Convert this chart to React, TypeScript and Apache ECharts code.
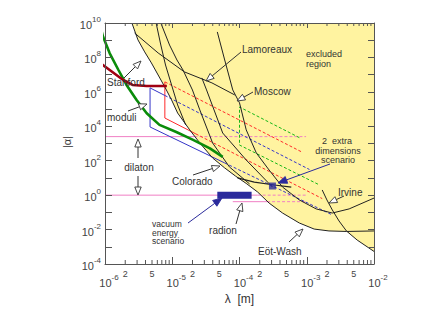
import React, { useEffect, useRef } from 'react';
import * as echarts from 'echarts';

// All curve points are [log10(λ / m), log10(|α|)]
const xExponents = [-6, -5, -4, -3, -2];
const minorMultipliers = [2, 3, 4, 5, 6, 7, 8, 9];
const labelledMinor = [2, 5];

const excludedBoundary: number[][] = [
  [-5.60, 10.00], [-5.51, 9.02], [-5.41, 8.32], [-5.31, 7.68], [-5.21, 6.98],
  [-5.11, 6.28], [-5.01, 5.53], [-4.92, 4.77], [-4.74, 3.79], [-4.59, 3.03],
  [-4.40, 2.16], [-4.22, 1.58], [-4.06, 1.11], [-3.90, 0.68], [-3.73, 0.18],
  [-3.56, -0.46], [-3.36, -1.04], [-3.11, -1.62], [-2.89, -1.97], [-2.67, -2.08],
  [-2.41, -2.11], [-2.00, -2.08],
];
const irvineCurve: number[][] = [
  [-2.77, 0.30], [-2.70, -0.28], [-2.62, -0.86], [-2.52, -1.50], [-2.41, -2.08],
  [-2.25, -2.61], [-2.00, -3.27],
];
const lamoreauxCurve: number[][] = [
  [-5.56, 9.42], [-5.21, 8.26], [-4.82, 7.16], [-4.41, 6.52], [-4.07, 5.82],
];
const steepCurveA: number[][] = [
  [-5.24, 10.00], [-5.17, 8.72], [-5.10, 7.56], [-5.01, 6.40], [-4.92, 5.24], [-4.80, 4.08],
];
const steepCurveB: number[][] = [
  [-5.17, 10.00], [-5.04, 8.72], [-4.93, 7.85], [-4.84, 7.27], [-4.70, 6.11],
  [-4.59, 4.95], [-4.40, 3.03], [-4.15, 1.64], [-3.85, 0.65],
];
const steepCurveC: number[][] = [
  [-4.56, 6.81], [-4.49, 6.11], [-4.25, 3.61], [-3.90, 2.04], [-3.51, 0.47],
];
const moscowCurve: number[][] = [
  [-4.33, 9.48], [-4.22, 7.85], [-4.10, 6.11], [-4.00, 5.36], [-3.90, 3.79],
  [-3.75, 2.45], [-3.56, 1.46], [-3.36, 0.47], [-3.11, -0.28], [-2.86, -0.80],
  [-2.62, -1.04], [-2.37, -0.80], [-2.00, -0.17],
];
const coloradoCurve: number[][] = [
  [-4.03, 1.00], [-3.78, 0.76], [-3.48, 0.59], [-3.23, 0.47],
];
const greenCurve: number[][] = [
  [-6.10, 10.28], [-6.03, 9.21], [-5.93, 8.24], [-5.80, 7.27], [-5.68, 6.40],
  [-5.53, 5.53], [-5.38, 4.76], [-5.19, 4.08], [-4.94, 3.67], [-4.69, 3.21],
  [-4.44, 2.72], [-4.25, 2.22],
];
const stanfordCurve: number[][] = [
  [-6.10, 7.76], [-5.93, 7.27], [-5.73, 6.69], [-5.59, 6.40], [-5.38, 6.34], [-5.08, 6.34],
];
const redSolid: number[][] = [[-5.11, 6.58], [-5.11, 4.48], [-4.65, 3.56]];
const redDashedUpper: number[][] = [[-5.11, 6.58], [-3.07, 2.50]];
const redDashedLower: number[][] = [[-4.65, 3.56], [-2.77, -0.20]];
const blueSolid: number[][] = [[-5.11, 5.79], [-5.33, 6.23], [-5.33, 3.96], [-4.22, 1.87]];
const blueDashedUpper: number[][] = [[-5.11, 5.79], [-2.96, 1.49]];
const blueDashedLower: number[][] = [[-4.22, 1.87], [-2.62, -1.15]];
const greenDashed: number[][] = [[-3.11, 3.34], [-4.00, 5.12], [-4.00, 2.91], [-2.815, 0.60]];
const pinkSolidUpper: number[][] = [[-6.00, 3.40], [-4.67, 3.40]];
const pinkDashedUpper: number[][] = [[-4.67, 3.40], [-3.01, 3.40]];
const pinkSolidUnity: number[][] = [[-6.00, 0], [-3.73, 0]];
const pinkDashedUnity: number[][] = [[-3.73, 0], [-3.01, 0]];
const pinkSolidLower: number[][] = [[-4.10, -0.38], [-3.59, -0.38]];
const pinkDashedLower: number[][] = [[-3.59, -0.38], [-3.01, -0.38]];
const radionRange: number[][] = [[-4.33, 0], [-3.82, 0]];
const twoExtraDimPoint: number[][] = [[-3.51, 0.53]];

const FONT = 'Liberation Sans, Arial, Helvetica, sans-serif';
const YELLOW = '#fff3a0';
const INK = '#222';
const AXIS = '#555';
const LABEL = '#444';
const NAVY = '#2b2b9c';
const PINK = '#f07fc4';

function line(data: number[][], color: string, width: number, type: any = 'solid', z = 3, clip = true) {
  return {
    type: 'line', data, symbol: 'none', showSymbol: false, silent: true, clip, z,
    lineStyle: { color, width, type },
  };
}

function arrow(x1: number, y1: number, x2: number, y2: number, color: string, filled: boolean) {
  const dx = x2 - x1, dy = y2 - y1, L = Math.hypot(dx, dy);
  const ux = dx / L, uy = dy / L;
  const h = filled ? 9 : 8, w = filled ? 3.6 : 3.2;
  const bx = x2 - ux * h, by = y2 - uy * h;
  const nx = -uy, ny = ux;
  return [
    { type: 'line', z: 100, shape: { x1, y1, x2: bx, y2: by }, style: { stroke: color, lineWidth: 1 } },
    {
      type: 'polygon', z: 100,
      shape: { points: [[x2, y2], [bx + nx * w, by + ny * w], [bx - nx * w, by - ny * w]] },
      style: { fill: filled ? color : '#fff', stroke: color, lineWidth: 0.9 },
    },
  ];
}

function label(text: string, x: number, y: number, align = 'left', size = 10) {
  return {
    type: 'text', x, y, z: 100,
    style: { text, fontSize: size, fontFamily: FONT, fill: '#333', align, verticalAlign: 'middle' },
  };
}

export default function App() {
  const ref = useRef<HTMLDivElement>(null);
  useEffect(() => {
    if (!ref.current) return;
    const chart = echarts.init(ref.current, null, { renderer: 'svg' });

    const excludedPolygon = [
      ...excludedBoundary.slice(0, excludedBoundary.length - 1),
      ...irvineCurve.slice(5),
      [-2, 10],
    ];
    const minorTicks: number[][] = [];
    xExponents.slice(0, -1).forEach((n) => {
      minorMultipliers.forEach((k) => minorTicks.push([n + Math.log10(k), k]));
    });

    const tickRich = {
      b: { fontSize: 11, lineHeight: 15, verticalAlign: 'bottom', color: LABEL, fontFamily: FONT },
      bx: { fontSize: 11, lineHeight: 15, verticalAlign: 'bottom', color: LABEL, fontFamily: FONT, padding: [0, 0, 0, 8] },
      s: { fontSize: 8, lineHeight: 8, verticalAlign: 'top', color: LABEL, fontFamily: FONT },
    };

    const commonX = {
      type: 'value', min: -6, max: -2, interval: 1, z: 10,
      splitLine: { show: false },
      axisLine: { onZero: false, lineStyle: { color: AXIS, width: 1 } },
    };
    const commonY = {
      type: 'value', min: -4, max: 10, interval: 1, z: 10,
      splitLine: { show: false },
      axisLine: { onZero: false, lineStyle: { color: AXIS, width: 1 } },
    };

    const option: any = {
      animation: false,
      grid: { left: 105, right: 62, top: 23, bottom: 56, containLabel: false, outerBoundsMode: 'none' },
      xAxis: [
        {
          ...commonX, position: 'bottom',
          name: 'λ  [m]', nameLocation: 'middle', nameGap: 29,
          nameTextStyle: { fontSize: 12, color: '#333', fontFamily: FONT },
          axisTick: { inside: true, length: 7, lineStyle: { color: AXIS } },
          axisLabel: {
            margin: 9, formatter: (v: number) => `{bx|10}{s|${v}}`, rich: tickRich,
          },
        },
        {
          ...commonX, position: 'top',
          axisTick: { inside: true, length: 5, lineStyle: { color: AXIS } },
          axisLabel: { show: false },
        },
      ],
      yAxis: [
        {
          ...commonY, position: 'left',
          axisTick: { inside: true, length: 7, lineStyle: { color: AXIS } },
          axisLabel: {
            margin: 4,
            formatter: (v: number) => (Math.abs(v) % 2 === 0 ? `{b|10}{s|${v}}` : ''),
            rich: tickRich,
          },
        },
        {
          ...commonY, position: 'right',
          axisTick: { inside: true, length: 6, lineStyle: { color: AXIS } },
          axisLabel: { show: false },
        },
      ],
      series: [
        {
          type: 'custom', z: 1, silent: true, data: [[-4, 0]],
          renderItem: (_p: any, api: any) => ({
            type: 'polygon',
            shape: { points: excludedPolygon.map((p) => api.coord(p)) },
            style: { fill: YELLOW, stroke: 'none' },
          }),
        },
        line(pinkSolidUpper, PINK, 1, 'solid', 2),
        line(pinkDashedUpper, PINK, 1, [3, 2], 2),
        line(pinkSolidUnity, PINK, 1, 'solid', 2),
        line(pinkDashedUnity, PINK, 1, [3, 2], 2),
        line(pinkSolidLower, PINK, 1, 'solid', 2),
        line(pinkDashedLower, PINK, 1, [3, 2], 2),
        line(redSolid, '#ff2a2a', 1, 'solid', 2),
        line(redDashedUpper, '#ff2a2a', 1, [3, 2], 2),
        line(redDashedLower, '#ff2a2a', 1, [3, 2], 2),
        line(blueSolid, '#3535c8', 1, 'solid', 2),
        line(blueDashedUpper, '#3535c8', 1, [3, 2], 2),
        line(blueDashedLower, '#3535c8', 1, [3, 2], 2),
        line(greenDashed, '#18b818', 1, [3, 2], 2),
        line(excludedBoundary, INK, 1, 'solid', 3),
        line(irvineCurve, INK, 1, 'solid', 3),
        line(lamoreauxCurve, INK, 1, 'solid', 3),
        line(steepCurveA, INK, 1, 'solid', 3),
        line(steepCurveB, INK, 1, 'solid', 3),
        line(steepCurveC, INK, 1, 'solid', 3),
        line(moscowCurve, INK, 1, 'solid', 3),
        line(coloradoCurve, INK, 1.2, 'solid', 3),
        line(greenCurve, '#0a8c0a', 2.6, 'solid', 4, false),
        line(stanfordCurve, '#a00012', 2.6, 'solid', 4, false),
        { ...line(radionRange, NAVY, 7, 'solid', 5), lineStyle: { color: NAVY, width: 7, cap: 'butt' } },
        {
          type: 'scatter', data: twoExtraDimPoint, symbol: 'rect', symbolSize: 7, z: 5, silent: true,
          itemStyle: { color: NAVY },
        },
        {
          type: 'custom', z: 11, silent: true, data: minorTicks,
          renderItem: (_p: any, api: any) => {
            const v = api.value(0), k = api.value(1);
            const b = api.coord([v, -4]);
            const t = api.coord([v, 10]);
            const children: any[] = [
              { type: 'line', shape: { x1: b[0], y1: b[1], x2: b[0], y2: b[1] - 4 }, style: { stroke: AXIS, lineWidth: 1 } },
              { type: 'line', shape: { x1: t[0], y1: t[1], x2: t[0], y2: t[1] + 3 }, style: { stroke: AXIS, lineWidth: 1 } },
            ];
            if (labelledMinor.includes(k)) {
              children.push({
                type: 'text', x: b[0], y: b[1] + 10,
                style: { text: String(k), fontSize: 9, fontFamily: FONT, fill: LABEL, align: 'center', verticalAlign: 'middle' },
              });
            }
            return { type: 'group', children };
          },
        },
      ],
      graphic: [
        {
          type: 'text', x: 67, y: 142, rotation: Math.PI / 2, z: 100,
          style: { text: '|α|', fontSize: 11, fontFamily: FONT, fill: '#333', align: 'center', verticalAlign: 'middle' },
        },
        label('Stanford', 107, 82),
        label('moduli', 107, 117),
        label('dilaton', 139, 167, 'center'),
        label('Colorado', 172, 181),
        label('vacuum', 152, 224, 'left', 8.5),
        label('energy', 152, 232.5, 'left', 8.5),
        label('scenario', 152, 241, 'left', 8.5),
        label('radion', 223, 230, 'center'),
        label('Eöt-Wash', 258, 251),
        label('Irvine', 338, 192),
        label('Lamoreaux', 242, 49),
        label('Moscow', 254, 91),
        label('excluded', 306, 54, 'left', 9),
        label('region', 306, 63.5, 'left', 9),
        label('2  extra', 337, 141, 'center', 9),
        label('dimensions', 338, 150.5, 'center', 9),
        label('scenario', 338, 160, 'center', 9),
        ...arrow(124, 78, 141, 61, '#333', false),
        ...arrow(128, 111, 147, 104, '#333', false),
        ...arrow(138, 158, 138, 139, '#333', false),
        ...arrow(138, 176, 138, 195, '#333', false),
        ...arrow(193, 175, 220, 166, '#333', false),
        ...arrow(236, 224, 242, 203, '#333', false),
        ...arrow(289, 242, 303, 229, '#333', false),
        ...arrow(344, 196, 329, 203, '#333', false),
        ...arrow(241, 52, 206, 81, '#333', false),
        ...arrow(253, 92, 237, 101, '#333', false),
        ...arrow(188, 223, 222, 198, NAVY, true),
        ...arrow(330, 164, 278, 183, NAVY, true),
      ],
    };
    chart.setOption(option);
    return () => chart.dispose();
  }, []);
  return <div ref={ref} style={{ position: 'absolute', left: 0, top: 0, width: 436, height: 320 }} />;
}
